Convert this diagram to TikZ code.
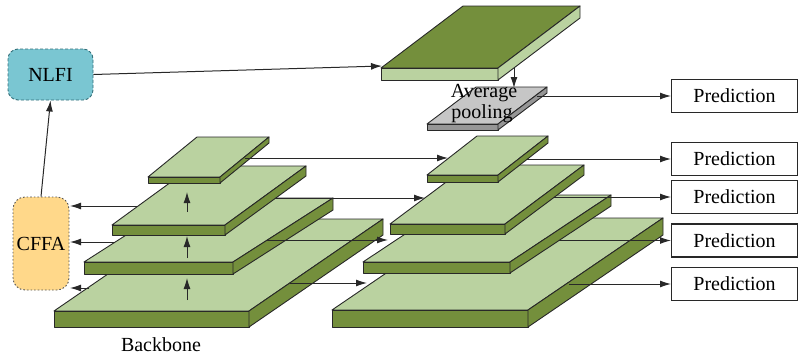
\documentclass[tikz,border=0pt]{standalone}
\usepackage{fontspec}
\setmainfont{Liberation Serif}
\usetikzlibrary{arrows.meta}
\definecolor{lgreen}{RGB}{186,210,160}
\definecolor{dgreen}{RGB}{116,143,60}
\definecolor{gtop}{RGB}{198,198,198}
\definecolor{gfront}{RGB}{150,150,150}
\definecolor{cffafill}{RGB}{255,216,138}
\definecolor{nlfifill}{RGB}{122,198,210}
\definecolor{nlfiedge}{RGB}{50,110,120}
\definecolor{edgec}{RGB}{40,40,40}
\newcommand{\slabdraw}[9]{%
  \filldraw[slabedge,fill=#7] (#1,#3) -- (#2,#3) -- ({#2+#5},{#3-#6}) -- ({#1+#5},{#3-#6}) -- cycle;
  \filldraw[slabedge,fill=#8] (#1,#3) rectangle (#2,{#3+#4});
  \filldraw[slabedge,fill=#9] (#2,#3) -- ({#2+#5},{#3-#6}) -- ({#2+#5},{#3-#6+#4}) -- (#2,{#3+#4}) -- cycle;
}
\tikzset{
  slabedge/.style={draw=edgec, line width=0.9pt, line join=round},
  conn/.style={draw=edgec, line width=1pt, -{Latex[length=11pt,width=7pt]}},
  predbox/.style={draw=edgec, line width=1.1pt, minimum width=126pt, minimum height=33pt, inner sep=0pt, anchor=west, font=\rmfamily\fontsize{20}{22}\selectfont},
  lbl/.style={font=\rmfamily\fontsize{20}{22}\selectfont, inner sep=0pt}
}
\begin{document}
\begin{tikzpicture}[x=1pt,y=-1pt]
\useasboundingbox (0,0) rectangle (798,359);

% side modules
\node[draw=edgec!80, fill=cffafill, rounded corners=12pt, dash pattern=on 1.6pt off 2pt, line width=0.9pt,
      minimum width=56pt, minimum height=93pt, inner sep=0pt, font=\rmfamily\fontsize{20}{22}\selectfont] (cffa) at (41,243.5) {CFFA};
\node[draw=nlfiedge, fill=nlfifill, rounded corners=10pt, dash pattern=on 3pt off 2pt, line width=0.9pt,
      minimum width=85pt, minimum height=51pt, inner sep=0pt, font=\rmfamily\fontsize{20}{22}\selectfont] (nlfi) at (50.5,74.5) {NLFI};
\draw[conn] (cffa.north) -- (nlfi.south);

% prediction boxes
\node[predbox] (p1) at (671,96) {Prediction};
\node[predbox] (p2) at (671,159) {Prediction};
\node[predbox] (p3) at (671,197) {Prediction};
\node[predbox] (p4) at (671,240.5) {Prediction};
\node[predbox] (p5) at (671,284) {Prediction};

% ---------- left pyramid (backbone) ----------
\slabdraw{54}{249}{311}{16}{134}{92}{lgreen}{dgreen}{dgreen}
\coordinate (a1s) at (187,300); \coordinate (a1e) at (187,278);
\draw[conn] (a1s) -- (a1e);
\coordinate (l1r) at (290,283); \coordinate (r1l) at (367,283);
\draw[conn] (l1r) -- (r1l);
\coordinate (l1l) at (89,288); \coordinate (c3) at (70,288);
\draw[conn] (l1l) -- (c3);

\slabdraw{84}{233}{262}{12}{100}{64}{lgreen}{dgreen}{dgreen}
\coordinate (a2s) at (187,258); \coordinate (a2e) at (187,236);
\draw[conn] (a2s) -- (a2e);
\coordinate (l2r) at (267,240); \coordinate (r2l) at (388,240);
\draw[conn] (l2r) -- (r2l);
\coordinate (l2l) at (115,242); \coordinate (c2) at (70,242);
\draw[conn] (l2l) -- (c2);
\coordinate (l3r) at (262,198); \coordinate (r3l) at (425,198);
\draw[conn] (l3r) -- (r3l);

\slabdraw{112}{225}{225}{10}{81}{59}{lgreen}{dgreen}{dgreen}
\coordinate (a3s) at (187,212); \coordinate (a3e) at (187,192);
\draw[conn] (a3s) -- (a3e);
\coordinate (l3l) at (138,206); \coordinate (c1) at (70,206);
\draw[conn] (l3l) -- (c1);

\slabdraw{148}{220}{177}{6}{49}{40}{lgreen}{dgreen}{dgreen}
\coordinate (l4r) at (245,158); \coordinate (r4l) at (448,158);
\draw[conn] (l4r) -- (r4l);

\node[lbl] (bb) at (161,345) {Backbone};

% ---------- right pyramid ----------
\slabdraw{332}{528}{310}{17}{135}{92}{lgreen}{dgreen}{dgreen}
\coordinate (q1) at (569,284);
\draw[conn] (q1) -- (p5.west);
\coordinate (q2) at (545,240.5);
\draw[conn] (q2) -- (p4.west);

\slabdraw{363}{510}{262}{11}{101}{67}{lgreen}{dgreen}{dgreen}
\coordinate (q3) at (541,197);
\draw[conn] (q3) -- (p3.west);

\slabdraw{390}{505}{224}{10}{79}{59}{lgreen}{dgreen}{dgreen}
\coordinate (q4) at (521,159);
\draw[conn] (q4) -- (p2.west);

\slabdraw{427}{498}{175}{7}{50}{39}{lgreen}{dgreen}{dgreen}

% ---------- top feature and average pooling ----------
\slabdraw{427}{498}{124}{6}{49}{37}{gtop}{gfront}{gfront}
\slabdraw{381}{498}{68}{12}{82}{62}{dgreen}{lgreen}{lgreen}
\coordinate (tin) at (382,66);
\draw[conn] (nlfi.east) -- (tin);
\coordinate (tdown) at (514,68); \coordinate (gin) at (514,88);
\draw[conn] (tdown) -- (gin);
\coordinate (gout) at (537,96);
\draw[conn] (gout) -- (p1.west);
\node[lbl] (avg) at (484,93) {Average};
\node[lbl] (pool) at (482,114) {pooling};
\end{tikzpicture}
\end{document}
